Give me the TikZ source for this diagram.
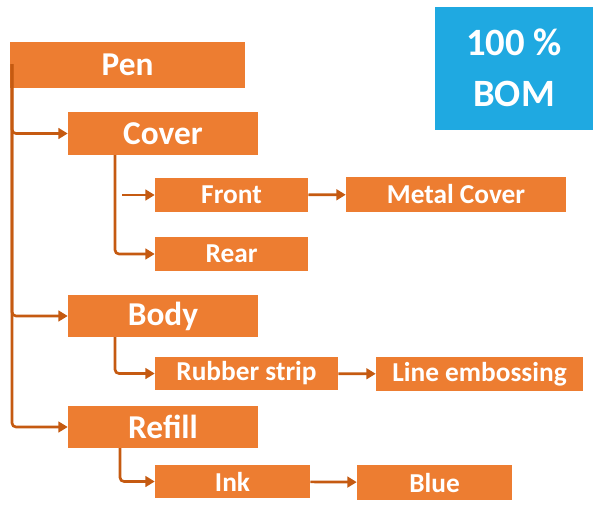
\documentclass[tikz,border=0pt]{standalone}
\usepackage{fontspec}
\setmainfont{Carlito}
\usetikzlibrary{arrows.meta}
\definecolor{bomorange}{HTML}{ED7D31}
\definecolor{bomline}{HTML}{C55A11}
\definecolor{bomblue}{HTML}{1FA9E1}
\tikzset{
	part/.style={fill=bomorange, text=white, font=\bfseries\fontsize{25}{27}\selectfont, inner sep=0pt},
	subpart/.style={part, font=\bfseries\fontsize{20.5}{22}\selectfont},
	link/.style={draw=bomline, line width=2pt, -{Triangle[length=7pt,width=8pt]}, rounded corners=3pt}
}
% box from (x1,y1) to (x2,y2) in pixels
\newcommand{\bomnode}[7]{%
	\node (#2) [#1, minimum width={(#5-#3)*0.75pt}, minimum height={(#6-#4)*0.75pt}] at ({(#3+#5)/2},{(#4+#6)/2}) {#7};}
\begin{document}
\begin{tikzpicture}[x=0.75pt, y=-0.75pt]
	\useasboundingbox (0,0) rectangle (616,525);
	\bomnode{part}{pen}{10}{42}{245}{88}{Pen}
	\bomnode{part}{cover}{68}{112}{258}{155}{Cover}
	\bomnode{subpart}{front}{155}{178}{308}{212}{Front}
	\bomnode{subpart}{metal}{346}{177}{566}{212}{Metal Cover}
	\bomnode{subpart}{rear}{155}{237}{308}{271}{Rear}
	\bomnode{part}{body}{68}{295}{258}{337}{Body}
	\bomnode{subpart}{rubber}{155}{357}{338}{390}{Rubber strip}
	\bomnode{subpart}{emboss}{376}{357}{583}{391}{Line embossing}
	\bomnode{part}{refill}{68}{406}{258}{448}{Refill}
	\bomnode{subpart}{ink}{155}{465}{310}{498}{Ink}
	\bomnode{subpart}{blue}{357}{465}{512}{500}{Blue}
	\node (bom) [fill=bomblue, text=white, font=\bfseries\fontsize{29}{38}\selectfont, align=center,
		minimum width={158*0.75pt}, minimum height={123*0.75pt}] at (514,68) {100 \%\\BOM};
	% trunk of the tree
	\coordinate (trunk) at (12,64);
	\draw [link] (trunk) |- (cover.west);
	\draw [link] (trunk) |- (body.west);
	\draw [link] (trunk) |- (refill.west);
	% sub levels
	\coordinate (coverroot) at (115,155);
	\coordinate (frontstart) at (122,195);
	\draw [link] (frontstart) -- (front.west);
	\draw [link] (coverroot) |- (rear.west);
	\draw [link] (115,337) |- (rubber.west);
	\draw [link] (120,448) |- (ink.west);
	\draw [link] (front) -- (metal);
	\draw [link] (rubber) -- (emboss);
	\draw [link] (ink) -- (blue);
\end{tikzpicture}
\end{document}
